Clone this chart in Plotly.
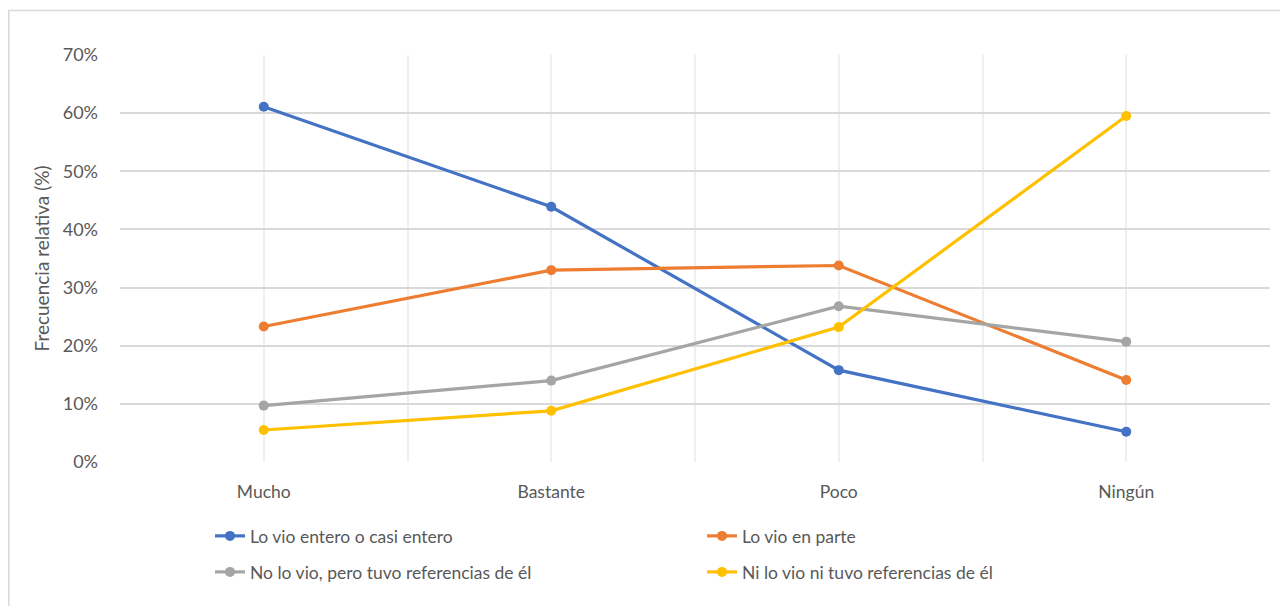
import plotly.graph_objects as go

categories = ["Mucho", "Bastante", "Poco", "Ningún"]
series_names = [
    "Lo vio entero o casi entero",
    "Lo vio en parte",
    "No lo vio, pero tuvo referencias de él",
    "Ni lo vio ni tuvo referencias de él",
]
lo_vio_entero = [61.1, 43.9, 15.8, 5.2]
lo_vio_parte = [23.3, 33.0, 33.8, 14.1]
no_lo_vio_ref = [9.7, 14.0, 26.8, 20.7]
ni_lo_vio = [5.5, 8.8, 23.2, 59.5]
y_ticks = [0, 10, 20, 30, 40, 50, 60, 70]
y_tick_labels = ["0%", "10%", "20%", "30%", "40%", "50%", "60%", "70%"]

colors = ["#4472C4", "#ED7D31", "#A5A5A5", "#FFC000"]
values = [lo_vio_entero, lo_vio_parte, no_lo_vio_ref, ni_lo_vio]
legend_ids = ["legend", "legend", "legend2", "legend2"]

FONT = "Lato"
TXT = "#595959"

x_idx = list(range(len(categories)))

fig = go.Figure()
for name, vals, col, lg in zip(series_names, values, colors, legend_ids):
    fig.add_trace(go.Scatter(
        x=x_idx, y=vals, name=name, mode="lines+markers",
        line=dict(color=col, width=3.2),
        marker=dict(color=col, size=10),
        legend=lg,
    ))

# page body has an 8px margin; figure coordinates = screen - 8
W, H = 1280, 598
L, R, T, B = 112, 18, 47, 144
pw, ph = W - L - R, H - T - B

def px_to_paper_x(px):
    return (px - L) / pw

def px_to_paper_y(py):
    return (H - B - py) / ph

fig.add_shape(type="rect", xref="paper", yref="paper",
              x0=px_to_paper_x(0.8), x1=px_to_paper_x(1320),
              y0=px_to_paper_y(640), y1=px_to_paper_y(2.5),
              line=dict(color="#d9d9d9", width=1.5), layer="below")

legend_common = dict(
    orientation="h", xref="container", yref="container",
    x=202 / W, xanchor="left", yanchor="top",
    entrywidth=447, entrywidthmode="pixels",
    font=dict(family=FONT, color=TXT, size=17.5),
    itemwidth=30, bgcolor="rgba(0,0,0,0)",
)

fig.update_layout(
    width=W, height=H,
    margin=dict(l=L, r=R, t=T, b=B, autoexpand=False),
    paper_bgcolor="white", plot_bgcolor="white",
    font=dict(family=FONT, color=TXT, size=17),
    showlegend=True,
    legend=dict(legend_common, y=1 - 510 / H),
    legend2=dict(legend_common, y=1 - 546 / H),
    xaxis=dict(
        range=[-0.5, 3.5], tickmode="array", tickvals=x_idx, ticktext=categories,
        showgrid=True, gridcolor="#efefef", gridwidth=1.5,
        minor=dict(tickmode="array", tickvals=[-0.5, 0.5, 1.5, 2.5, 3.5],
                   showgrid=True, gridcolor="#efefef", gridwidth=1.5),
        showline=False, zeroline=False, ticks="",
        tickfont=dict(family=FONT, size=17.5, color=TXT),
        ticklabelstandoff=17,
    ),
    yaxis=dict(
        range=[0, 70], tickmode="array", tickvals=y_ticks, ticktext=y_tick_labels,
        showgrid=True, gridcolor="#d9d9d9", gridwidth=1.5,
        zeroline=False, showline=False, ticks="",
        tickfont=dict(family=FONT, size=18, color=TXT),
        ticklabelstandoff=21,
        title=dict(text="Frecuencia relativa (%)", font=dict(family=FONT, size=19, color=TXT), standoff=8),
    ),
)

fig.write_html("out.html")
